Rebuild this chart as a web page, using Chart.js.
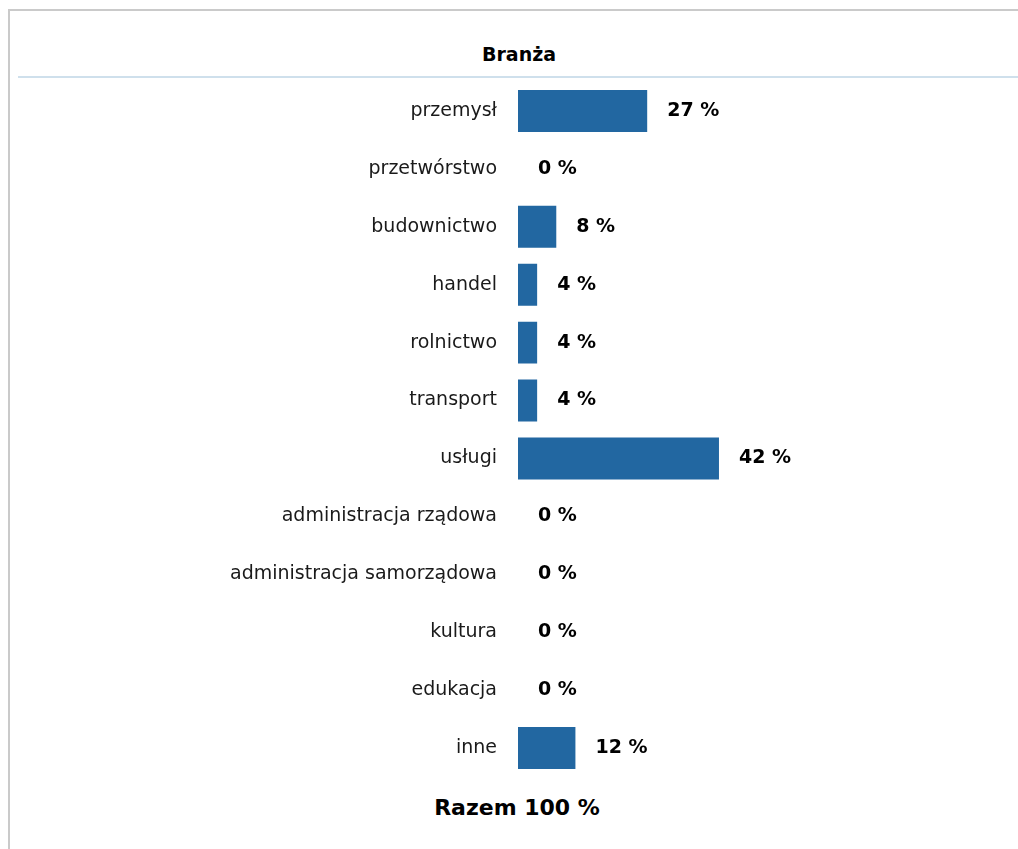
<!DOCTYPE html>
<html>
<head>
<meta charset="utf-8">
<script src="https://cdn.jsdelivr.net/npm/chart.js@4.4.1/dist/chart.umd.min.js"></script>
<style>
  body { margin: 0; background: #fff; font-family: 'DejaVu Sans', sans-serif; }
  #page { position: relative; width: 1018px; height: 849px; overflow: hidden; }
  #frameTop { position: absolute; left: 8px; top: 9px; width: 1010px; height: 2px; background: #cacaca; }
  #frameLeft { position: absolute; left: 8px; top: 9px; width: 2px; height: 840px; background: #cacaca; }
  #titel { position: absolute; left: 20px; width: 998px; top: 42px; line-height: 24px;
           text-align: center; font-weight: bold; font-size: 19px; color: #000; }
  #linia { position: absolute; left: 18px; top: 76px; width: 1000px; height: 2px; background: #cfe0ec; }
  #razem { position: absolute; left: 16px; width: 1002px; top: 794px; line-height: 28px;
           text-align: center; font-weight: bold; font-size: 22px; color: #000; }
  #wykres { position: absolute; left: 0; top: 72px; }
</style>
</head>
<body>
<div id="page">
  <div id="frameTop"></div>
  <div id="frameLeft"></div>
  <div id="titel">Branża</div>
  <div id="linia"></div>
  <canvas id="wykres" width="1018" height="715"></canvas>
  <div id="razem">Razem 100 %</div>
</div>
<script>
// dane wykresu
const branze = ['przemysł', 'przetwórstwo', 'budownictwo', 'handel', 'rolnictwo', 'transport',
  'usługi', 'administracja rządowa', 'administracja samorządowa', 'kultura', 'edukacja', 'inne'];
const procenty = [27, 0, 8, 4, 4, 4, 42, 0, 0, 0, 0, 12];

// etykiety z wartościami obok słupków
const etykietyWartosci = {
  id: 'etykietyWartosci',
  afterDatasetsDraw(chart) {
    const ctx = chart.ctx;
    const meta = chart.getDatasetMeta(0);
    ctx.save();
    ctx.font = "bold 19px 'DejaVu Sans'";
    ctx.fillStyle = '#000';
    ctx.textAlign = 'left';
    ctx.textBaseline = 'middle';
    meta.data.forEach((bar, i) => {
      ctx.fillText(procenty[i] + ' %', bar.x + 20, bar.y);
    });
    ctx.restore();
  }
};

const ctx = document.getElementById('wykres').getContext('2d');
const wykres = new Chart(ctx, {
  type: 'bar',
  data: {
    labels: branze,
    datasets: [{
      data: procenty,
      backgroundColor: '#2267a1',
      borderWidth: 0,
      categoryPercentage: 1,
      barPercentage: 0.725
    }]
  },
  options: {
    indexAxis: 'y',
    responsive: false,
    animation: false,
    layout: { padding: { left: 0, right: 21.5, top: 0, bottom: 0 } },
    plugins: {
      legend: { display: false },
      tooltip: { enabled: false }
    },
    scales: {
      x: {
        display: false,
        min: 0,
        max: 100
      },
      y: {
        afterFit(scale) { scale.width = 518; },
        // odstęp etykiet od słupków przez tickLength (bez rysowania kresek)
        grid: { display: false, drawTicks: true, tickLength: 21 },
        border: { display: false },
        ticks: {
          padding: 0,
          color: '#1a1a1a',
          font: { family: 'DejaVu Sans', size: 19, lineHeight: '20px' }
        }
      }
    }
  },
  plugins: [etykietyWartosci]
});
</script>
</body>
</html>
